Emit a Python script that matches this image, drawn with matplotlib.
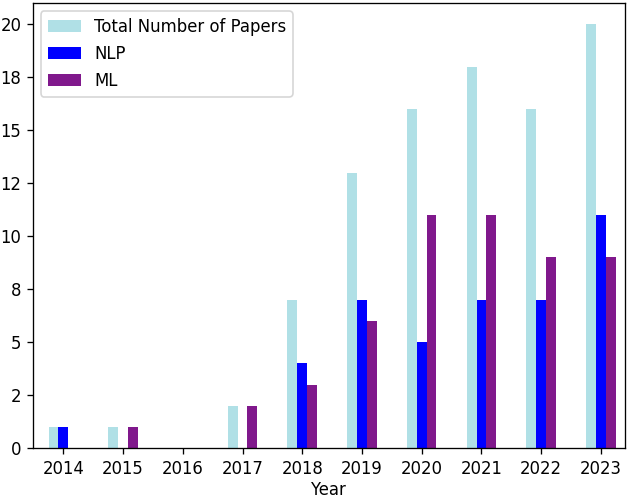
import numpy as np
import matplotlib
matplotlib.use('Agg')
import matplotlib.pyplot as plt
from matplotlib.ticker import FormatStrFormatter

# Papers per year
years = [2014, 2015, 2016, 2017, 2018, 2019, 2020, 2021, 2022, 2023]
total = [1, 1, 0, 2, 7, 13, 16, 18, 16, 20]
nlp = [1, 0, 0, 0, 4, 7, 5, 7, 7, 11]
ml = [0, 1, 0, 2, 3, 6, 11, 11, 9, 9]

dpi = 119
fig = plt.figure(figsize=(633 / dpi, 499 / dpi), dpi=dpi)
ax = fig.add_axes([0.052, 0.102, 0.935, 0.892])

x = np.array(years)
w = 0.165
ax.bar(x - w, total, width=w, color='powderblue', label='Total Number of Papers')
ax.bar(x, nlp, width=w, color='blue', label='NLP')
ax.bar(x + w, ml, width=w, color='#80188c', label='ML')

ax.set_xticks(years)
ax.set_xlim(2013.49, 2023.4)
ax.set_ylim(0, 21)
ax.yaxis.set_major_formatter(FormatStrFormatter('%.0f'))
ax.set_xlabel('Year', labelpad=2)
ax.legend(loc='upper left', labelspacing=0.55)

fig.savefig('out.png', dpi=dpi)
